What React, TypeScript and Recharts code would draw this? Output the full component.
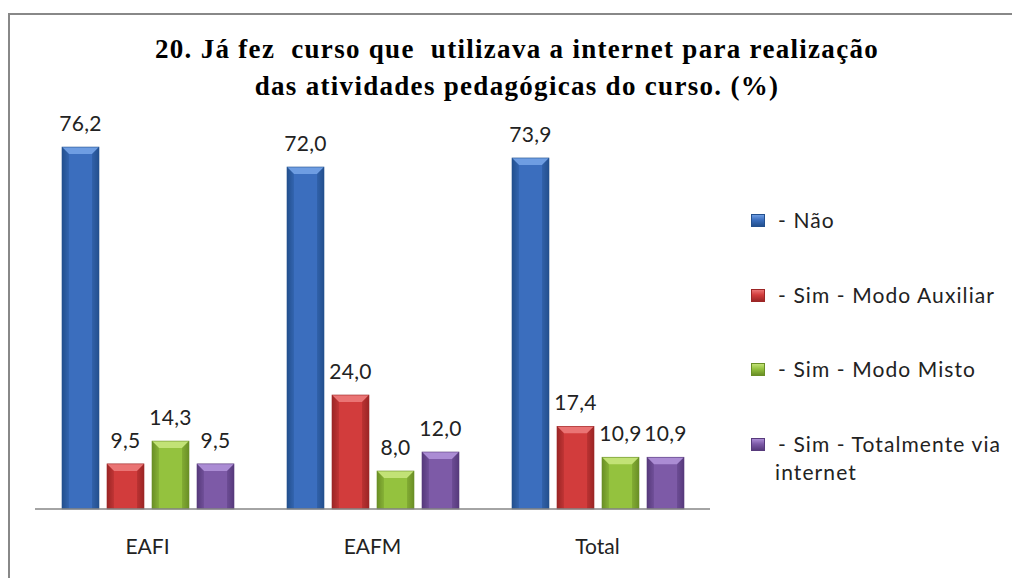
import React from "react";
import { BarChart, Bar, XAxis, YAxis, LabelList } from "recharts";

const categories = ["EAFI", "EAFM", "Total"];
const seriesNames = ["- Não", "- Sim - Modo Auxiliar", "- Sim - Modo Misto", "- Sim - Totalmente via internet"];
const nao = [76.2, 72.0, 73.9];
const auxiliar = [9.5, 24.0, 17.4];
const misto = [14.3, 8.0, 10.9];
const totalmente = [9.5, 12.0, 10.9];
const titleLines = ["20. Já fez  curso que  utilizava a internet para realização", "das atividades pedagógicas do curso. (%)"];

const keys = ["nao", "auxiliar", "misto", "totalmente"];
const seriesValues = [nao, auxiliar, misto, totalmente];

const palette: Record<string, { main: string; dark: string; light: string }> = {
  nao: { main: "#3b6ebe", dark: "#23508e", light: "#6e9de2" },
  auxiliar: { main: "#d23c3c", dark: "#9c2626", light: "#ea7474" },
  misto: { main: "#94c23e", dark: "#6a8f26", light: "#c2e276" },
  totalmente: { main: "#7d5aa7", dark: "#573a7c", light: "#ab8cd4" },
};

const data = categories.map((c, i) => {
  const row: Record<string, any> = { cat: c };
  keys.forEach((k, j) => (row[k] = seriesValues[j][i]));
  return row;
});

const fmt = (v: any) => Number(v).toFixed(1).replace(".", ",");
const sans = "Lato, 'Open Sans', sans-serif";

const makeShape = (key: string) => (props: any) => {
  const { x, y, width, height } = props;
  if (!width || !height) return null;
  const c = palette[key];
  const b = Math.min(7, height / 2, width / 2);
  const gid = `g-${key}-${Math.round(x)}`;
  return (
    <g>
      <defs>
        <linearGradient id={gid} x1="0" y1="0" x2="1" y2="0">
          <stop offset="0" stopColor={c.dark} />
          <stop offset="0.18" stopColor={c.main} />
          <stop offset="0.82" stopColor={c.main} />
          <stop offset="1" stopColor={c.dark} />
        </linearGradient>
      </defs>
      <rect x={x} y={y} width={width} height={height} fill={`url(#${gid})`} />
      <polygon points={`${x},${y} ${x + width},${y} ${x + width - b},${y + b} ${x + b},${y + b}`} fill={c.light} />
      <polygon points={`${x},${y} ${x + b},${y + b} ${x + b},${y + height} ${x},${y + height}`} fill={c.dark} opacity={0.35} />
      <polygon points={`${x + width},${y} ${x + width - b},${y + b} ${x + width - b},${y + height} ${x + width},${y + height}`} fill={c.dark} opacity={0.45} />
      <rect x={x} y={y} width={width} height={height} fill="none" stroke={c.dark} strokeWidth={0.6} />
    </g>
  );
};

const LegendBlock = () => (
  <div style={{ position: "absolute", left: 751, top: 206, fontFamily: sans, fontSize: 21, color: "#222", letterSpacing: 1.1 }}>
    {keys.map((k, i) => {
      const c = palette[k];
      return (
        <div key={k} style={{ position: "absolute", left: 0, top: i * 74.7, width: 260, display: "flex", alignItems: "flex-start" }}>
          <div
            style={{
              width: 14,
              height: 13,
              marginTop: 8,
              background: `linear-gradient(${c.light}, ${c.main} 45%, ${c.dark})`,
              border: `1px solid ${c.dark}`,
              boxSizing: "border-box",
              flexShrink: 0,
            }}
          />
          <div style={{ marginLeft: 10, lineHeight: "28px", width: 236, textIndent: 3 }}>{seriesNames[i]}</div>
        </div>
      );
    })}
  </div>
);

export default function App() {
  return (
    <div style={{ position: "absolute", left: 0, top: 0, width: 1012, height: 578, overflow: "hidden", background: "#fff" }}>
      <div
        style={{
          position: "absolute",
          left: 8,
          top: 13,
          width: 1010,
          height: 600,
          borderLeft: "2px solid #888",
          borderTop: "2px solid #888",
        }}
      />
      <div
        style={{
          position: "absolute",
          left: 17,
          top: 31,
          width: 1000,
          textAlign: "center",
          fontFamily: "'Liberation Serif', 'Times New Roman', serif",
          fontWeight: "bold",
          fontSize: 27,
          letterSpacing: 1.3,
          lineHeight: "37px",
          whiteSpace: "pre",
          color: "#000",
        }}
      >
        {titleLines[0]}
        <br />
        {titleLines[1]}
      </div>
      <div style={{ position: "absolute", left: 0, top: 0 }}>
        <BarChart
          width={1012}
          height={578}
          data={data}
          margin={{ top: 129, right: 302, bottom: 0, left: 35 }}
          barCategoryGap={27}
          barGap={8}
        >
          <XAxis
            dataKey="cat"
            axisLine={{ stroke: "#868686", strokeWidth: 1.5 }}
            tickLine={false}
            tickSize={0}
            tickMargin={30}
            height={69}
            tick={{ fontFamily: sans, fontSize: 21, fill: "#222" }}
          />
          <YAxis hide domain={[0, 80]} />
          {keys.map((k) => (
            <Bar key={k} dataKey={k} name={k} fill={palette[k].main} isAnimationActive={false} shape={makeShape(k)}>
              <LabelList
                dataKey={k}
                position="top"
                offset={16}
                formatter={fmt}
                style={{ fontFamily: sans, fontSize: 21, fill: "#222", letterSpacing: 0.3 }}
              />
            </Bar>
          ))}
        </BarChart>
      </div>
      <LegendBlock />
    </div>
  );
}
